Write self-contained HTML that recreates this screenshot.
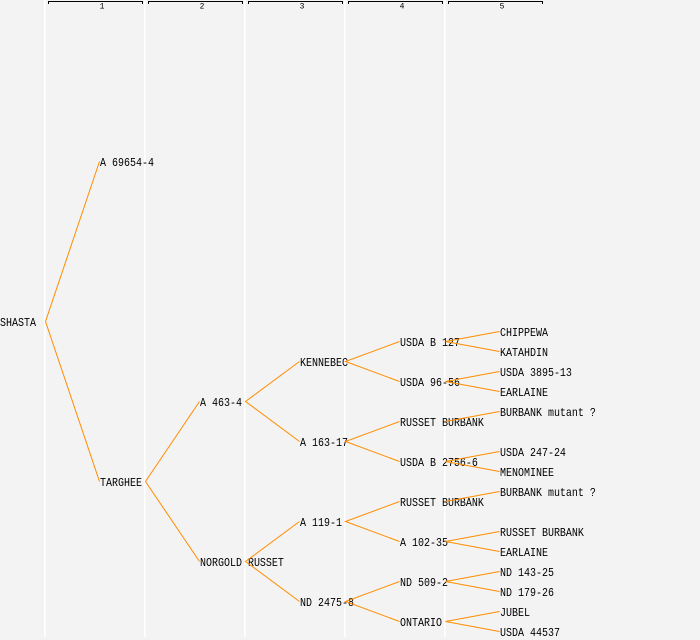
<!DOCTYPE html>
<html>
<head>
<meta charset="utf-8">
<style>
html,body{margin:0;padding:0;background:#f3f3f3;}
svg{display:block;}
text{font-family:"Liberation Mono","DejaVu Sans Mono",monospace;font-size:10px;fill:#000;}
.h{font-family:"Liberation Mono","DejaVu Sans Mono",monospace;font-size:8px;}
</style>
</head>
<body>
<svg width="700" height="640" viewBox="0 0 700 640" xmlns="http://www.w3.org/2000/svg">
<rect x="0" y="0" width="700" height="640" fill="#f3f3f3"/>
<!-- column separators -->
<g fill="#ffffff">
<rect x="44" y="0" width="1.6" height="637"/>
<rect x="144" y="0" width="1.6" height="637"/>
<rect x="244" y="0" width="1.6" height="637"/>
<rect x="344" y="0" width="1.6" height="637"/>
<rect x="444" y="0" width="1.6" height="637"/>
</g>
<!-- header brackets -->
<g stroke="#000" stroke-width="1" fill="none" shape-rendering="crispEdges">
<polyline points="48.5,4 48.5,1.5 142.5,1.5 142.5,4"/>
<polyline points="148.5,4 148.5,1.5 242.5,1.5 242.5,4"/>
<polyline points="248.5,4 248.5,1.5 342.5,1.5 342.5,4"/>
<polyline points="348.5,4 348.5,1.5 442.5,1.5 442.5,4"/>
<polyline points="448.5,4 448.5,1.5 542.5,1.5 542.5,4"/>
</g>
<g>
<text class="h" x="102" y="8.6" text-anchor="middle">1</text>
<text class="h" x="202" y="8.6" text-anchor="middle">2</text>
<text class="h" x="302" y="8.6" text-anchor="middle">3</text>
<text class="h" x="402" y="8.6" text-anchor="middle">4</text>
<text class="h" x="502" y="8.6" text-anchor="middle">5</text>
</g>
<!-- labels -->
<g>
<text transform="translate(0,325.8) scale(1,1.2)">SHASTA</text>
<text transform="translate(100,165.8) scale(1,1.2)">A 69654-4</text>
<text transform="translate(100,485.8) scale(1,1.2)">TARGHEE</text>
<text transform="translate(200,405.8) scale(1,1.2)">A 463-4</text>
<text transform="translate(200,565.8) scale(1,1.2)">NORGOLD RUSSET</text>
<text transform="translate(300,365.8) scale(1,1.2)">KENNEBEC</text>
<text transform="translate(300,445.8) scale(1,1.2)">A 163-17</text>
<text transform="translate(300,525.8) scale(1,1.2)">A 119-1</text>
<text transform="translate(300,605.8) scale(1,1.2)">ND 2475-8</text>
<text transform="translate(400,345.8) scale(1,1.2)">USDA B 127</text>
<text transform="translate(400,385.8) scale(1,1.2)">USDA 96-56</text>
<text transform="translate(400,425.8) scale(1,1.2)">RUSSET BURBANK</text>
<text transform="translate(400,465.8) scale(1,1.2)">USDA B 2756-6</text>
<text transform="translate(400,505.8) scale(1,1.2)">RUSSET BURBANK</text>
<text transform="translate(400,545.8) scale(1,1.2)">A 102-35</text>
<text transform="translate(400,585.8) scale(1,1.2)">ND 509-2</text>
<text transform="translate(400,625.8) scale(1,1.2)">ONTARIO</text>
<text transform="translate(500,335.8) scale(1,1.2)">CHIPPEWA</text>
<text transform="translate(500,355.8) scale(1,1.2)">KATAHDIN</text>
<text transform="translate(500,375.8) scale(1,1.2)">USDA 3895-13</text>
<text transform="translate(500,395.8) scale(1,1.2)">EARLAINE</text>
<text transform="translate(500,415.8) scale(1,1.2)">BURBANK mutant ?</text>
<text transform="translate(500,455.8) scale(1,1.2)">USDA 247-24</text>
<text transform="translate(500,475.8) scale(1,1.2)">MENOMINEE</text>
<text transform="translate(500,495.8) scale(1,1.2)">BURBANK mutant ?</text>
<text transform="translate(500,535.8) scale(1,1.2)">RUSSET BURBANK</text>
<text transform="translate(500,555.8) scale(1,1.2)">EARLAINE</text>
<text transform="translate(500,575.8) scale(1,1.2)">ND 143-25</text>
<text transform="translate(500,595.8) scale(1,1.2)">ND 179-26</text>
<text transform="translate(500,615.8) scale(1,1.2)">JUBEL</text>
<text transform="translate(500,635.8) scale(1,1.2)">USDA 44537</text>
</g>
<!-- edges -->
<g stroke="#ff8c00" stroke-width="1" fill="none">
<polyline points="99.5,161.5 45.5,321.5 99.5,481.5"/>
<polyline points="199.5,401.5 145.5,481.5 199.5,561.5"/>
<polyline points="299.5,361.5 245.5,401.5 299.5,441.5"/>
<polyline points="299.5,521.5 245.5,561.5 299.5,601.5"/>
<polyline points="399.5,341.5 345.5,361.5 399.5,381.5"/>
<polyline points="399.5,421.5 345.5,441.5 399.5,461.5"/>
<polyline points="399.5,501.5 345.5,521.5 399.5,541.5"/>
<polyline points="399.5,581.5 345.5,601.5 399.5,621.5"/>
<polyline points="499.5,331.5 445.5,341.5 499.5,351.5"/>
<polyline points="499.5,371.5 445.5,381.5 499.5,391.5"/>
<polyline points="499.5,411.5 445.5,421.5"/>
<polyline points="499.5,451.5 445.5,461.5 499.5,471.5"/>
<polyline points="499.5,491.5 445.5,501.5"/>
<polyline points="499.5,531.5 445.5,541.5 499.5,551.5"/>
<polyline points="499.5,571.5 445.5,581.5 499.5,591.5"/>
<polyline points="499.5,611.5 445.5,621.5 499.5,631.5"/>
</g>
</svg>
</body>
</html>
